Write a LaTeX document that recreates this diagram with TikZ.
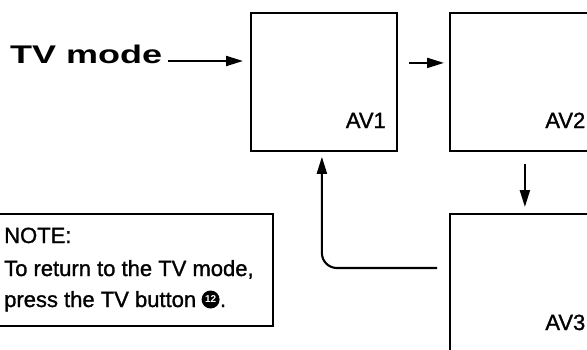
\documentclass[tikz,border=0pt]{standalone}
\usepackage{fontspec}
\setmainfont{Liberation Sans}
\newfontfamily\scanfont[FakeBold=1.2]{Liberation Sans}
\usetikzlibrary{arrows.meta}
\begin{document}
\begin{tikzpicture}[x=1pt,y=-1pt,
  box/.style={draw, line width=1.8pt, inner sep=0pt, anchor=north west},
  conn/.style={line width=2.1pt, -{Triangle[length=17pt,width=10pt]}},
  lbl/.style={font=\scanfont\fontsize{22}{22}\selectfont, inner sep=0pt, anchor=base east},
  note/.style={font=\scanfont\fontsize{22}{22}\selectfont, inner sep=0pt, anchor=base west}
]
\useasboundingbox (0,0) rectangle (587,349);
\clip (0,0) rectangle (587,349);
% boxes
\node (av1) [box, minimum width=146pt, minimum height=138pt] at (250,12) {};
\node (av2) [box, minimum width=200pt, minimum height=138pt] at (449,12) {};
\node (av3) [box, minimum width=200pt, minimum height=200pt] at (449,213) {};
\node (note) [box, minimum width=276pt, minimum height=112pt] at (-4,213) {};
% labels
\node (l1) [lbl] at (386,128) {AV1};
\node (l2) [lbl] at (585.5,128) {AV2};
\node (l3) [lbl] at (585.5,330) {AV3};
\node (tv) [inner sep=0pt, anchor=base west] at (10,63) {\resizebox{152pt}{18.5pt}{\bfseries TV mode}};
% note text
\node (n1) [note] at (4,243) {NOTE:};
\node (n2) [note] at (4,276) {To return to the TV mode,};
\node (n3) [note] at (4,307) {press the TV button};
\node (b12) [circle, fill=black, text=white, inner sep=0pt, minimum size=18pt,
  font=\fontsize{10}{10}\selectfont\bfseries, anchor=west] at ([xshift=5pt,yshift=7.5pt]n3.base east) {12};
\node (dot) [note] at (b12.east |- n3.base) {.};
% connectors
\coordinate (tvend) at (168,61);
\coordinate (ret) at (437,268);
\draw[conn, shorten >=7pt] (tvend) -- (av1.west |- tvend);
\draw[conn, shorten <=11pt, shorten >=5pt] ([yshift=19pt]av1.east) -- ([yshift=19pt]av2.west);
\draw[conn, shorten <=12pt, shorten >=6pt] ([xshift=-25pt]av2.south) -- ([xshift=-25pt]av3.north);
\draw[conn, rounded corners=15pt, shorten >=5pt] (ret) -| ([xshift=-2pt]av1.south);
\end{tikzpicture}
\end{document}
